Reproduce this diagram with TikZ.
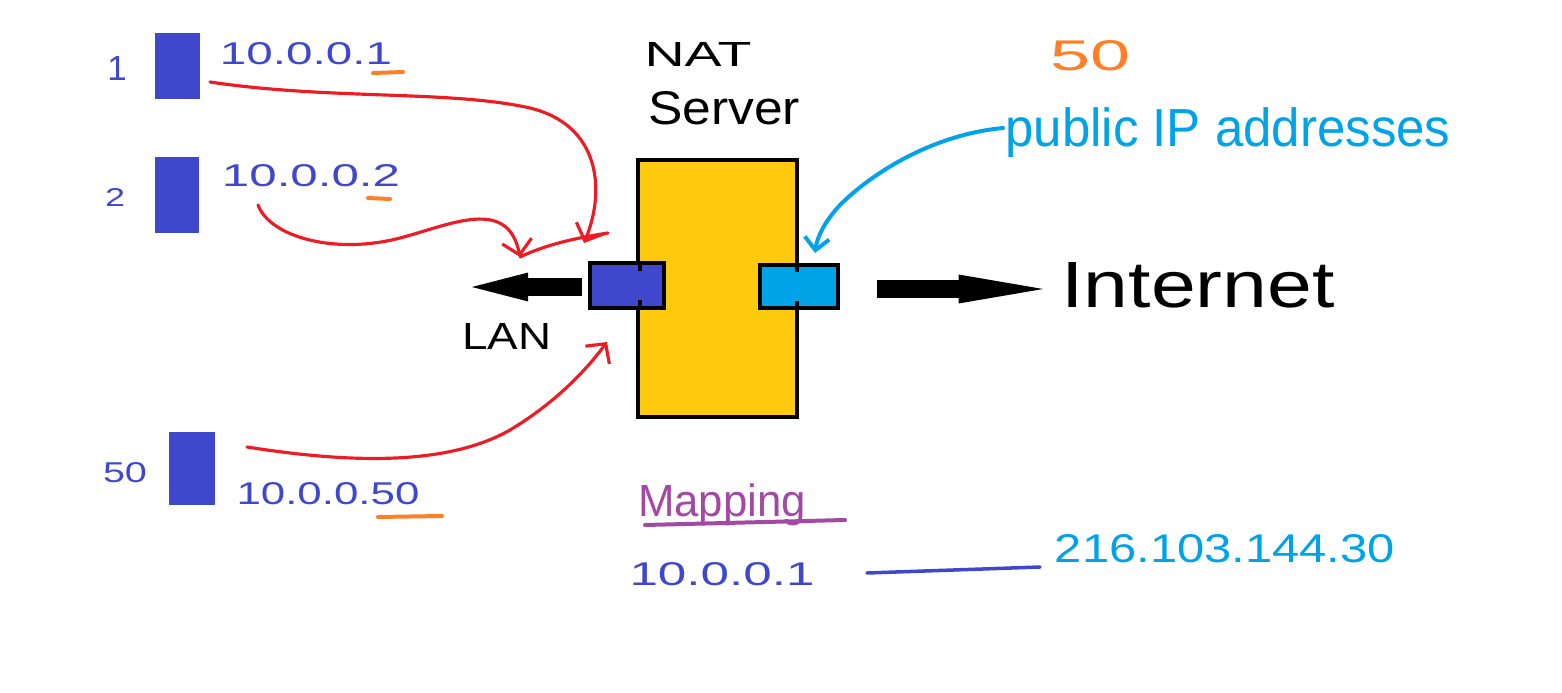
\documentclass[tikz,border=0pt]{standalone}
\usepackage{fontspec}
\setmainfont{Liberation Sans}
\usetikzlibrary{arrows.meta}
\newlength\pxu
\setlength\pxu{0.02cm}
\newcommand\fitbox[3]{\resizebox{#1\pxu}{#2\pxu}{#3}}
\newcommand\fitboxd[3]{\resizebox*{#1\pxu}{#2\pxu}{#3}}
\newcommand\fith[2]{\resizebox*{!}{#1\pxu}{#2}}
\definecolor{hostblue}{RGB}{63,72,204}
\definecolor{hworange}{RGB}{255,127,39}
\definecolor{hwcyan}{RGB}{0,162,232}
\definecolor{hwred}{RGB}{237,28,36}
\definecolor{hwpurple}{RGB}{163,73,164}
\definecolor{hwyellow}{RGB}{255,201,14}
\begin{document}
\begin{tikzpicture}[x=0.02cm,y=-0.02cm,
  txt/.style={inner sep=0pt, outer sep=0pt, anchor=center},
  host/.style={fill=hostblue, draw=none, inner sep=0pt, outer sep=0pt},
  box/.style={draw=black, line width=2.83pt, inner sep=0pt, outer sep=0pt},
  redline/.style={draw=hwred, line width=1.8pt, line cap=round, line join=round},
  redarrow/.style={redline, -{Straight Barb[length=8pt,width=17pt,line width=1.8pt]}},
  cyanarrow/.style={draw=hwcyan, line width=2.27pt, line cap=round, -{Straight Barb[length=7pt,width=14pt,line width=2.27pt]}},
  bigarrow/.style={draw=black, line width=9.8pt},
  uline/.style={line width=2.27pt, line cap=round},
]
\useasboundingbox (0,0) rectangle (1562,693);

% hosts
\node[host, minimum width=45\pxu, minimum height=66\pxu] (host1) at (177.5,66) {};
\node[host, minimum width=44\pxu, minimum height=76\pxu] (host2) at (177,195) {};
\node[host, minimum width=46\pxu, minimum height=73\pxu] (host3) at (192,468.5) {};

% host numbers
\node[txt, text=hostblue] (n1) at (117,68) {\fith{24}{1}};
\node[txt, text=hostblue] (n2) at (115,197) {\fitbox{20}{18}{2}};
\node[txt, text=hostblue] (n3) at (125,473) {\fitbox{44}{20}{50}};

% IP labels
\node[txt, text=hostblue] (ip1) at (306,54) {\fitbox{172}{22}{10.0.0.1}};
\node[txt, text=hostblue] (ip2) at (311,176) {\fitbox{178}{22}{10.0.0.2}};
\node[txt, text=hostblue] (ip3) at (328,494) {\fitbox{183}{22}{10.0.0.50}};
\draw[hworange, uline] (373,73) -- (403,72);
\draw[hworange, uline] (368,198) -- (390,199);
\draw[hworange, uline] (378,517) -- (442,516);

% NAT server
\node[txt] (nat) at (698,55) {\fitbox{107}{24}{NAT}};
\node[txt] (srvlabel) at (724,108) {\fitbox{152}{33}{Server}};
\node[box, fill=hwyellow, minimum width=159\pxu, minimum height=257\pxu] (server) at (717.5,288.5) {};
\node[box, fill=hostblue, minimum width=74\pxu, minimum height=45\pxu] (lanport) at (627,285.5) {};
\node[box, fill=hwcyan, minimum width=78\pxu, minimum height=43\pxu] (wanport) at (799,286.5) {};
\draw[line width=2.27pt] (640,265) -- (640,271) (640,300) -- (640,306);
\draw[line width=2.27pt] (797,267) -- (797,272) (797,301) -- (797,306);

% LAN / Internet arrows
\coordinate (lanstart) at (582,287);
\coordinate (lantip) at (472,287);
\coordinate (wanstart) at (877,289);
\coordinate (wantip) at (1043,289);
\draw[bigarrow, -{Triangle[length=32pt,width=16.5pt,line width=0pt]}] (lanstart) -- (lantip);
\draw[bigarrow, -{Triangle[length=48pt,width=16.5pt,line width=0pt]}] (wanstart) -- (wantip);
\node[txt] (lan) at (507,336) {\fitbox{89}{26}{LAN}};
\node[txt] (internet) at (1198,285) {\fitbox{273}{45}{Internet}};

% public IP addresses
\node[txt, text=hworange] (count) at (1090,56) {\fitbox{80}{30}{50}};
\node[txt, text=hwcyan] (public) at (1228,133) {\fitboxd{445}{50}{public IP addresses}};
\coordinate (pubstart) at (1003,128);
\coordinate (pubtip) at (815,253);
\draw[cyanarrow] (pubstart) .. controls (930,135) and (870,175) .. (840,205) .. controls (824,222) and (817,238) .. (pubtip);

% red flows
\coordinate (r1s) at (210,82);
\coordinate (r1e) at (584,243);
\coordinate (r2s) at (258,205);
\coordinate (r2e) at (520,257);
\coordinate (r2x) at (608,233);
\coordinate (r3s) at (247,447);
\coordinate (r3e) at (607,342);
\draw[redarrow] (r1s) .. controls (330,100) and (450,90) .. (530,108) .. controls (600,125) and (606,190) .. (r1e);
\draw[redarrow] (r2s) .. controls (270,237) and (335,255) .. (400,238) .. controls (450,225) and (508,196) .. (r2e);
\draw[redline] (r2e) .. controls (545,245) and (575,238) .. (r2x);
\draw[redarrow] (r3s) .. controls (330,460) and (440,470) .. (510,430) .. controls (560,400) and (590,365) .. (r3e);

% mapping
\node[txt, text=hwpurple] (mapping) at (722,505) {\fitboxd{168}{42}{Mapping}};
\draw[hwpurple, uline] (645,525) -- (845,520);
\node[txt, text=hostblue] (mapfrom) at (722,574) {\fitbox{185}{23}{10.0.0.1}};
\node[txt, text=hwcyan] (mapto) at (1225,549) {\fitbox{340}{28}{216.103.144.30}};
\coordinate (mlinea) at (867,573);
\coordinate (mlineb) at (1040,567);
\draw[hostblue, line width=2pt, line cap=round] (mlinea) -- (mlineb);
\end{tikzpicture}
\end{document}
